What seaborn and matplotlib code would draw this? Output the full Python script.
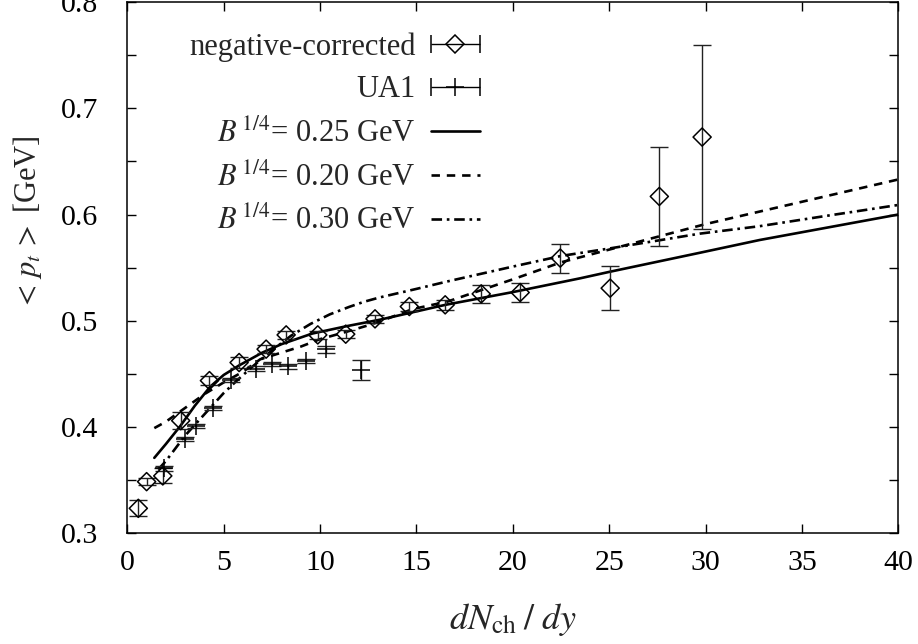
import numpy as np
import matplotlib
matplotlib.use("Agg")
import matplotlib.pyplot as plt
import seaborn as sns
from matplotlib.container import ErrorbarContainer
from matplotlib.legend_handler import HandlerErrorbar
from matplotlib.lines import Line2D
from matplotlib.ticker import MultipleLocator

# ---------------- data ----------------
neg_x = [0.57, 1.0, 1.84, 2.77, 4.26, 5.8, 7.2, 8.24, 9.88, 11.33, 12.85,
         14.63, 16.49, 18.36, 20.38, 22.46, 25.05, 27.6, 29.82]
neg_y = [0.3235, 0.3486, 0.354, 0.406, 0.4437, 0.4607, 0.4733, 0.4867, 0.4867,
         0.4874, 0.5018, 0.5134, 0.515, 0.5253, 0.5266, 0.559, 0.5307, 0.617, 0.6729]
neg_err = [0.0075, 0.003, 0.007, 0.008, 0.004, 0.005, 0.004, 0.004, 0.004,
           0.004, 0.004, 0.004, 0.005, 0.0083, 0.009, 0.0137, 0.0204, 0.0468, 0.0865]

ua_x = [1.9, 3.0, 3.55, 4.45, 5.4, 6.7, 7.5, 8.35, 9.25, 10.3, 12.1]
ua_y = [0.361, 0.389, 0.401, 0.418, 0.444, 0.455, 0.459, 0.457, 0.462, 0.473, 0.454]
ua_err = [0.002, 0.002, 0.002, 0.002, 0.002, 0.002, 0.002, 0.002, 0.002, 0.003, 0.0094]

b25_x = [1.4, 2.0, 2.75, 3.5, 4.3, 5.0, 5.8, 7.0, 8.0, 9.6, 11.4, 13.1,
         16.5, 20.0, 23.5, 25.0, 29.7, 32.8, 40.0]
b25_y = [0.371, 0.384, 0.401, 0.420, 0.438, 0.449, 0.458, 0.470, 0.478, 0.488,
         0.495, 0.501, 0.515, 0.527, 0.540, 0.546, 0.564, 0.576, 0.600]

b20_x = [1.4, 2.0, 3.0, 4.0, 5.0, 6.0, 6.9, 7.9, 9.0, 10.0, 11.4, 12.4, 13.1,
         14.8, 16.6, 20.0, 22.5, 25.0, 27.5, 30.0, 35.0, 40.0]
b20_y = [0.399, 0.405, 0.418, 0.431, 0.442, 0.452, 0.4638, 0.4695, 0.4757, 0.4827,
         0.4898, 0.4952, 0.4993, 0.511, 0.518, 0.539, 0.555, 0.567, 0.579, 0.591,
         0.612, 0.633]

b30_x = [1.6, 2.0, 3.0, 4.0, 5.0, 5.7, 6.5, 7.5, 8.5, 9.5, 10.5, 11.5, 12.3,
         13.1, 15.0, 16.6, 20.0, 22.5, 25.0, 29.7, 32.8, 36.0, 40.0]
b30_y = [0.360, 0.368, 0.392, 0.412, 0.432, 0.444, 0.457, 0.472, 0.486, 0.497,
         0.506, 0.513, 0.518, 0.522, 0.530, 0.537, 0.551, 0.561, 0.568, 0.582,
         0.589, 0.598, 0.609]

x_ticks = [0, 5, 10, 15, 20, 25, 30, 35, 40]
y_ticks = [0.3, 0.4, 0.5, 0.6, 0.7, 0.8]

# ---------------- style ----------------
sns.set_style("ticks")
plt.rcParams["font.family"] = ["Liberation Serif", "DejaVu Serif"]
plt.rcParams["mathtext.fontset"] = "stix"

fig = plt.figure(figsize=(9.18, 6.44), dpi=100)
ax = fig.add_axes([0.1387, 0.1719, 0.9786 - 0.1387, 0.9969 - 0.1719])

lw_curve = 1.9
dash20 = (0, (3.2, 2.6))
dash30 = (0, (4.0, 1.8, 1.0, 1.8))
sns.lineplot(x=b25_x, y=b25_y, ax=ax, color="k", lw=lw_curve, sort=False,
             estimator=None, linestyle="-")
sns.lineplot(x=b20_x, y=b20_y, ax=ax, color="k", lw=lw_curve, sort=False,
             estimator=None, linestyle=dash20)
sns.lineplot(x=b30_x, y=b30_y, ax=ax, color="k", lw=lw_curve, sort=False,
             estimator=None, linestyle=dash30)

capsize = 6.5
ax.errorbar(neg_x, neg_y, yerr=neg_err, fmt="none", ecolor="#222222",
            elinewidth=1.0, capsize=capsize, capthick=1.0)
sns.scatterplot(x=neg_x, y=neg_y, ax=ax, marker="D", s=85,
                facecolor="none", edgecolor="k", linewidth=1.1, zorder=5)
ax.errorbar(ua_x, ua_y, yerr=ua_err, fmt="none", ecolor="#222222",
            elinewidth=1.0, capsize=capsize, capthick=1.0)
sns.scatterplot(x=ua_x, y=ua_y, ax=ax, marker="+", s=170, color="k",
                linewidth=1.1, zorder=5)

ax.set_xlim(0, 40)
ax.set_ylim(0.3, 0.8)
ax.set_xticks(x_ticks)
ax.set_yticks(y_ticks)
ax.set_xticklabels([str(t) for t in x_ticks])
ax.set_yticklabels([f"{t:.1f}" for t in y_ticks])
ax.yaxis.set_minor_locator(MultipleLocator(0.05))
ax.tick_params(which="both", direction="in", length=6.5, width=1.0,
               top=True, right=True, labelsize=21.5, colors="k")
ax.tick_params(axis="y", which="both", pad=21)
ax.tick_params(axis="x", which="both", pad=12)
for s in ax.spines.values():
    s.set_linewidth(1.1)
    s.set_color("k")

ax.set_xlabel(r"$dN_{\rm ch}\;/\;dy$", fontsize=26)
ax.xaxis.set_label_coords(0.5, -0.163)
ax.xaxis.label.set_va("center")
ax.set_ylabel(r"${<}\,p_t\,{>}$ [GeV]", fontsize=22)
ax.yaxis.set_label_coords(-0.13, 0.585)
ax.yaxis.label.set_va("center")

# ---------------- legend (proxies) ----------------
p_neg = ax.errorbar([np.nan], [np.nan], xerr=[[1], [1]], fmt="D", ms=9,
                    mfc="none", mec="k", mew=1.1, ecolor="k", elinewidth=1.0,
                    capsize=capsize, capthick=1.0)
p_ua = ax.errorbar([np.nan], [np.nan], xerr=[[1], [1]], fmt="+", ms=13,
                   mec="k", mew=1.1, ecolor="k", elinewidth=1.0,
                   capsize=capsize, capthick=1.0)
h25 = Line2D([], [], color="k", lw=lw_curve, linestyle="-")
h20 = Line2D([], [], color="k", lw=lw_curve, linestyle=dash20)
h30 = Line2D([], [], color="k", lw=lw_curve, linestyle=dash30)

handles = [p_neg, p_ua, h25, h20, h30]
labels = ["negative-corrected", "UA1",
          r"$B^{\,1/4}$= 0.25 GeV", r"$B^{\,1/4}$= 0.20 GeV", r"$B^{\,1/4}$= 0.30 GeV"]
leg = ax.legend(handles, labels, loc="upper right",
                bbox_to_anchor=(0.485, 0.983), frameon=False, fontsize=22,
                markerfirst=False, numpoints=1, handlelength=1.6,
                handletextpad=0.5, labelspacing=0.44, borderpad=0.2,
                handler_map={ErrorbarContainer: HandlerErrorbar(xerr_size=0.8)})
for t in leg.get_texts():
    t.set_ha("right")

fig.savefig("out.png", dpi=100)
